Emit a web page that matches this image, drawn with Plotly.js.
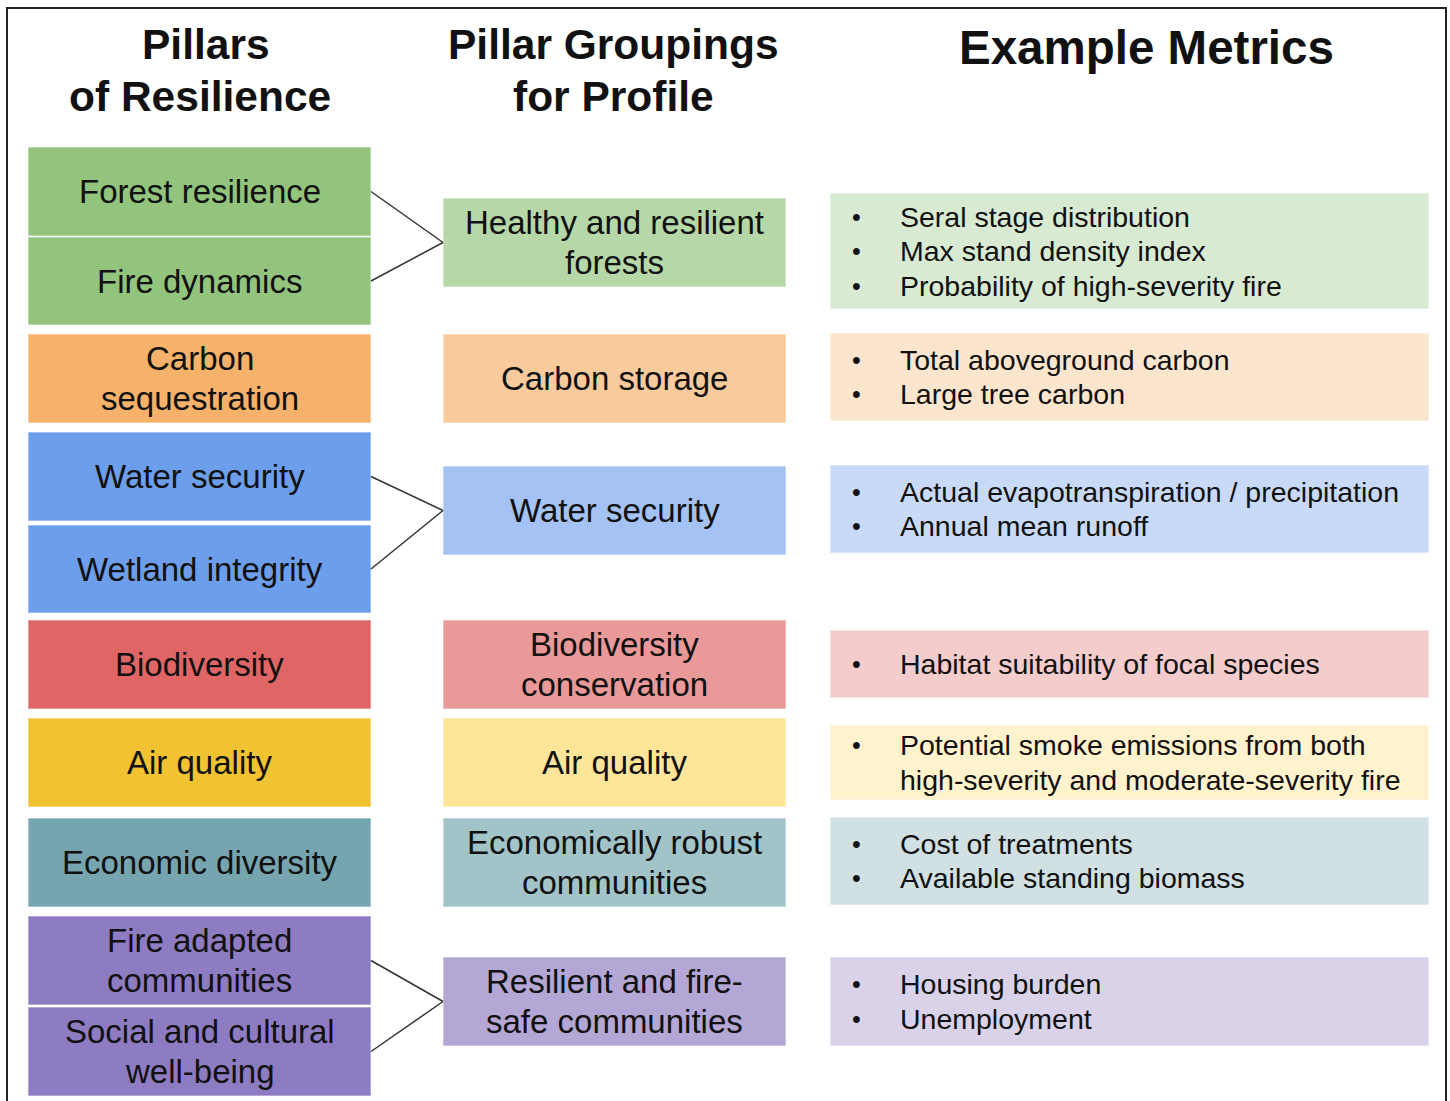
<!DOCTYPE html>
<html>
<head>
<meta charset="utf-8">
<script src="https://cdn.plot.ly/plotly-3.0.1.min.js"></script>
<style>html,body{margin:0;padding:0;background:#fff;}#chart{width:1450px;height:1101px;}</style>
</head>
<body>
<div id="chart"></div>
<script>
// ---------- DATA ----------
const headers = ["Pillars<br>of Resilience", "Pillar Groupings<br>for Profile", "Example Metrics"];
const pillars = ["Forest resilience", "Fire dynamics", "Carbon<br>sequestration", "Water security",
  "Wetland integrity", "Biodiversity", "Air quality", "Economic diversity",
  "Fire adapted<br>communities", "Social and cultural<br>well-being"];
const pillarGroup = [0, 0, 1, 2, 2, 3, 4, 5, 6, 6];
const groupings = ["Healthy and resilient<br>forests", "Carbon storage", "Water security",
  "Biodiversity<br>conservation", "Air quality", "Economically robust<br>communities",
  "Resilient and fire-<br>safe communities"];
const metrics = [
  ["Seral stage distribution", "Max stand density index", "Probability of high-severity fire"],
  ["Total aboveground carbon", "Large tree carbon"],
  ["Actual evapotranspiration / precipitation", "Annual mean runoff"],
  ["Habitat suitability of focal species"],
  ["Potential smoke emissions from both<br>high-severity and moderate-severity fire"],
  ["Cost of treatments", "Available standing biomass"],
  ["Housing burden", "Unemployment"]
];

// ---------- STYLE / GEOMETRY ----------
const pillarColors = ["#93c47d", "#f6b26b", "#6d9eeb", "#e06666", "#f1c232", "#76a5af", "#8e7cc3"];
const groupColors  = ["#b6d7a8", "#f9cb9c", "#a4c2f4", "#ea9999", "#ffe599", "#a2c4c9", "#b4a7d6"];
const metricColors = ["#d9ead3", "#fce5cd", "#c9daf8", "#f4cccc", "#fff2cc", "#d0e0e3", "#d9d2e9"];

const pillarX = [28, 371];
const pillarTop = [147, 237, 334, 432, 525, 620, 718, 818, 916, 1007];
const pillarBot = [236, 325, 423, 521, 613, 709, 807, 907, 1005, 1096];
const groupX = [443, 786];
const groupTop = [198, 334, 466, 620, 718, 818, 957];
const groupBot = [287, 423, 555, 709, 807, 907, 1046];
const metricX = [830, 1429];
const metricTop = [193, 333, 465, 630, 725, 817, 957];
const metricBot = [309, 421, 553, 698, 800, 905, 1046];
const bulletX = 856, metricTextX = 898;
const headerPos = [[[206, 44], [200, 96]], [[613, 44], [613, 96]], [[1146, 47]]];
const headerSize = [42.5, 42.5, 47.5];
const boxFont = 33, metricFont = 28.5;

const FONT = "Liberation Sans, Arial, Helvetica, sans-serif";
const TEXTC = "#111111";

const shapes = [];
const annotations = [];
const traces = [];

function addLines(text, cx, cy, size, spacing, xanchor, bold) {
  const lines = text.split("<br>");
  const n = lines.length;
  lines.forEach((ln, i) => {
    annotations.push({
      x: cx, y: cy + (i - (n - 1) / 2) * spacing, xref: "x", yref: "y",
      text: bold ? "<b>" + ln + "</b>" : ln, showarrow: false,
      xanchor: xanchor, yanchor: "middle",
      font: {family: FONT, size: size, color: TEXTC}
    });
  });
}

// frame
shapes.push({type: "rect", xref: "x", yref: "y", x0: 7, x1: 1446, y0: 8, y1: 1110,
  line: {color: "#222", width: 2}, fillcolor: "rgba(0,0,0,0)"});

// headers
headers.forEach((h, i) => {
  h.split("<br>").forEach((ln, j) => {
    const p = headerPos[i][j];
    annotations.push({x: p[0], y: p[1], xref: "x", yref: "y", text: "<b>" + ln + "</b>",
      showarrow: false, xanchor: "center", yanchor: "middle",
      font: {family: FONT, size: headerSize[i], color: TEXTC}});
  });
});

// pillars
pillars.forEach((p, i) => {
  const g = pillarGroup[i];
  shapes.push({type: "rect", xref: "x", yref: "y", x0: pillarX[0], x1: pillarX[1],
    y0: pillarTop[i], y1: pillarBot[i], fillcolor: pillarColors[g],
    line: {color: "rgba(255,255,255,0.45)", width: 1.5}, layer: "below"});
  addLines(p, (pillarX[0] + pillarX[1]) / 2, (pillarTop[i] + pillarBot[i]) / 2, boxFont, 40, "center", false);
});

// groupings
groupings.forEach((g, i) => {
  shapes.push({type: "rect", xref: "x", yref: "y", x0: groupX[0], x1: groupX[1],
    y0: groupTop[i], y1: groupBot[i], fillcolor: groupColors[i],
    line: {color: "rgba(255,255,255,0.45)", width: 1.5}, layer: "below"});
  addLines(g, (groupX[0] + groupX[1]) / 2, (groupTop[i] + groupBot[i]) / 2, boxFont, 40, "center", false);
  // connectors for groups formed from several pillars
  const members = pillarGroup.map((pg, k) => pg === i ? k : -1).filter(k => k >= 0);
  if (members.length > 1) {
    const gy = (groupTop[i] + groupBot[i]) / 2;
    members.forEach(k => {
      traces.push({x: [pillarX[1], groupX[0]], y: [(pillarTop[k] + pillarBot[k]) / 2, gy],
        mode: "lines", line: {color: "#333", width: 1.5}, hoverinfo: "skip", showlegend: false});
    });
  }
});

// metrics
metrics.forEach((m, i) => {
  shapes.push({type: "rect", xref: "x", yref: "y", x0: metricX[0], x1: metricX[1],
    y0: metricTop[i], y1: metricBot[i], fillcolor: metricColors[i],
    line: {color: "rgba(255,255,255,0.45)", width: 1.5}, layer: "below"});
  const lines = [];
  const bullets = [];
  m.forEach(item => {
    item.split("<br>").forEach((ln, j) => { lines.push(ln); bullets.push(j === 0); });
  });
  const n = lines.length;
  const cy = (metricTop[i] + metricBot[i]) / 2;
  lines.forEach((ln, k) => {
    const y = cy + (k - (n - 1) / 2) * 34.5;
    if (bullets[k]) {
      annotations.push({x: bulletX, y: y, xref: "x", yref: "y", text: "•", showarrow: false,
        xanchor: "center", yanchor: "middle", font: {family: FONT, size: 25, color: TEXTC}});
    }
    annotations.push({x: metricTextX, y: y, xref: "x", yref: "y", text: ln, showarrow: false,
      xanchor: "left", yanchor: "middle", font: {family: FONT, size: metricFont, color: TEXTC}});
  });
});

const layout = {
  width: 1450, height: 1101,
  margin: {l: 0, r: 0, t: 0, b: 0},
  paper_bgcolor: "#ffffff", plot_bgcolor: "#ffffff",
  xaxis: {range: [0, 1450], visible: false, fixedrange: true},
  yaxis: {range: [1101, 0], visible: false, fixedrange: true},
  shapes: shapes, annotations: annotations, showlegend: false
};

Plotly.newPlot("chart", traces, layout, {staticPlot: true, displayModeBar: false});
</script>
</body>
</html>
